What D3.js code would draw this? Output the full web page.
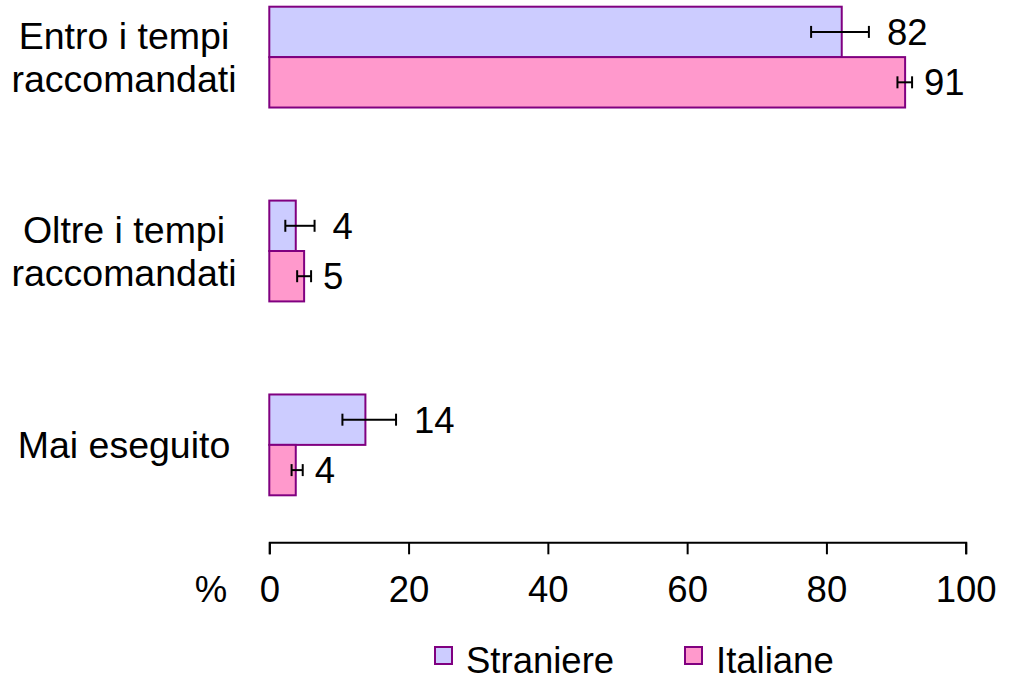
<!DOCTYPE html>
<html><head><meta charset="utf-8">
<script src="https://cdn.jsdelivr.net/npm/d3@7"></script>
<style>
html,body{margin:0;padding:0;background:#fff;}
text{font-family:"Liberation Sans",Arial,sans-serif;fill:#000;}
</style></head>
<body>
<svg id="chart" width="1009" height="678"></svg>
<script>
const categories = [["Entro i tempi","raccomandati"],["Oltre i tempi","raccomandati"],["Mai eseguito"]];
const categoryKeys = ["entro","oltre","mai"];
const seriesNames = ["Straniere","Italiane"];
const seriesColors = ["#CCCCFF","#FF99CC"];
const straniere = [82.2, 3.8, 13.8];
const italiane = [91.3, 5.0, 3.8];
const straniereLow = [77.8, 2.3, 10.5];
const straniereHigh = [86.1, 6.5, 18.2];
const italianeLow = [90.2, 4.0, 3.2];
const italianeHigh = [92.3, 6.0, 4.8];
const straniereLabels = ["82","4","14"];
const italianeLabels = ["91","5","4"];
const xTicks = [0,20,40,60,80,100];

const values = [straniere, italiane];
const lows = [straniereLow, italianeLow];
const highs = [straniereHigh, italianeHigh];
const labels = [straniereLabels, italianeLabels];
const labelGap = [18, 12];

const svg = d3.select("#chart");
const x = d3.scaleLinear().domain([0,100]).range([269.3, 965.7]);
const y = d3.scaleBand().domain(categoryKeys).range([6.7, 495.3]).paddingInner(0.48).paddingOuter(0);
const ys = d3.scaleBand().domain(seriesNames).range([0, y.bandwidth()]);
const axisY = 542.3;

// bars
seriesNames.forEach((s, si) => {
  const g = svg.append("g");
  categoryKeys.forEach((c, ci) => {
    const y0 = y(c) + ys(s);
    const h = ys.bandwidth();
    g.append("rect")
      .attr("x", x(0)).attr("y", y0)
      .attr("width", x(values[si][ci]) - x(0)).attr("height", h)
      .attr("fill", seriesColors[si]).attr("stroke", "#800080").attr("stroke-width", 2);
  });
});
// error bars and labels
seriesNames.forEach((s, si) => {
  categoryKeys.forEach((c, ci) => {
    const cy = y(c) + ys(s) + ys.bandwidth()/2;
    const lo = x(lows[si][ci]), hi = x(highs[si][ci]);
    const g = svg.append("g").attr("stroke", "#000").attr("stroke-width", 2);
    g.append("line").attr("x1", lo).attr("x2", hi).attr("y1", cy).attr("y2", cy);
    g.append("line").attr("x1", lo).attr("x2", lo).attr("y1", cy-6).attr("y2", cy+6);
    g.append("line").attr("x1", hi).attr("x2", hi).attr("y1", cy-6).attr("y2", cy+6);
    svg.append("text").attr("x", hi + labelGap[si]).attr("y", cy).attr("dy", "0.36em")
      .attr("font-size", 36.5).text(labels[si][ci]);
  });
});

// category labels
categoryKeys.forEach((c, ci) => {
  const lines = categories[ci];
  const cy = y(c) + y.bandwidth()/2;
  const lh = 43.4;
  const t = svg.append("text").attr("text-anchor", "middle").attr("font-size", 37.5);
  lines.forEach((ln, li) => {
    t.append("tspan").attr("x", 124)
      .attr("y", cy + (li - (lines.length-1)/2)*lh).attr("dy", "0.36em").text(ln);
  });
});

// x axis
const ax = svg.append("g").attr("transform", `translate(0,${axisY})`)
  .call(d3.axisBottom(x).tickValues(xTicks).tickSize(12).tickSizeOuter(12).tickPadding(21.7));
ax.select(".domain").attr("stroke", "#000").attr("stroke-width", 2);
ax.selectAll(".tick line").attr("stroke", "#000").attr("stroke-width", 2);
ax.selectAll(".tick text").attr("font-size", 36.5).attr("font-family", "Liberation Sans, Arial, sans-serif").attr("fill", "#000");
svg.append("text").attr("x", 211).attr("y", axisY + 33.7).attr("dy", "0.71em")
  .attr("text-anchor", "middle").attr("font-size", 36.5).text("%");

// legend
const legendX = [435, 685];
seriesNames.forEach((s, si) => {
  svg.append("rect").attr("x", legendX[si]).attr("y", 647).attr("width", 17).attr("height", 17)
    .attr("fill", seriesColors[si]).attr("stroke", "#800080").attr("stroke-width", 2);
  svg.append("text").attr("x", legendX[si] + 31).attr("y", 672.5).attr("font-size", 36.5).text(s);
});
</script>
</body></html>
